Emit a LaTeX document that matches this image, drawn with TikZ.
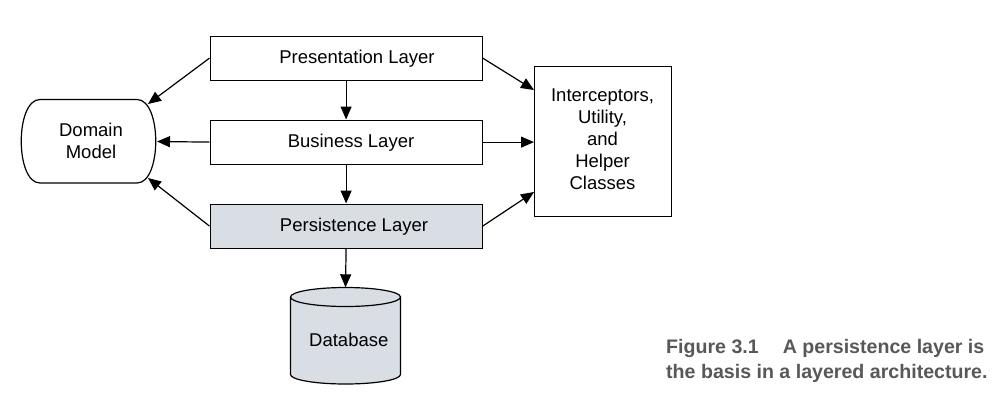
\documentclass[tikz,border=0pt]{standalone}
\usepackage{fontspec}
\setmainfont{Liberation Sans}
\usetikzlibrary{arrows.meta,calc}
\definecolor{layerfill}{RGB}{217,222,229}
\definecolor{captiongray}{RGB}{88,88,88}
\begin{document}
\begin{tikzpicture}[x=1pt,y=-1pt,
  every node/.style={font=\fontsize{18.5}{21.5}\selectfont},
  box/.style={draw, line width=1.2pt, minimum width=272pt, minimum height=44pt, inner sep=0pt, anchor=north west},
  lbl/.style={inner sep=0pt, anchor=base},
  conn/.style={line width=1.2pt, -{Triangle[length=13pt,width=11pt]}},
  shapeline/.style={line width=1.2pt},
  caption/.style={inner sep=0pt, anchor=base west, text=captiongray, font=\fontsize{19.6}{25}\selectfont\bfseries}
]
\useasboundingbox (0,0) rectangle (1008,405);

% layers
\node[box] (pres) at (209.5,35.5) {};
\node[lbl] (presl) at (357,63.6) {Presentation Layer};
\node[box] (bus) at (209.5,119.5) {};
\node[lbl] (busl) at (351,147.6) {Business Layer};
\node[box, fill=layerfill] (pers) at (209.5,203.5) {};
\node[lbl] (persl) at (354,231.8) {Persistence Layer};

% domain model
\draw[shapeline] (40,99.5) -- (137,99.5) .. controls (162,99.5) and (162,183) .. (137,183)
  -- (40,183) .. controls (15,183) and (15,99.5) .. (40,99.5) -- cycle;
\node[inner sep=0pt, align=center] (dm) at (91,140.7) {Domain\\Model};
\coordinate (dmA) at (148,104);
\coordinate (dmB) at (157,141.5);
\coordinate (dmC) at (148,178);

% interceptors
\node[draw, line width=1.2pt, minimum width=137pt, minimum height=149.5pt, inner sep=0pt, anchor=north west] (int) at (534,66) {};
\node[inner sep=0pt, align=center, font=\fontsize{18.5}{22}\selectfont] (intl) at (602.5,139.2) {Interceptors,\\Utility,\\and\\Helper\\Classes};
\coordinate (intA) at (534,90);
\coordinate (intC) at (534,192);

% database
\node[minimum width=111pt, minimum height=97pt, inner sep=0pt] (db) at (345.5,336) {};
\filldraw[shapeline, fill=layerfill] (290.5,297) -- (290.5,374.5) arc[start angle=180, end angle=0, x radius=55, y radius=9.5]
  -- (400.5,297) arc[start angle=0, end angle=-180, x radius=55, y radius=9.5] -- cycle;
\draw[shapeline] (290.5,297) arc[start angle=180, end angle=0, x radius=55, y radius=9.5];
\node[lbl] (dbl) at (348.8,346.7) {Database};

% connectors
\draw[conn] (pres.south) -- (bus.north);
\draw[conn] (bus.south) -- (pers.north);
\draw[conn] (pers.south) -- (db.north);
\draw[conn] (pres.west) -- (dmA);
\draw[conn] (bus.west) -- (dmB);
\draw[conn] (pers.west) -- (dmC);
\draw[conn] (pres.east) -- (intA);
\draw[conn] (bus.east) -- (bus.east -| int.west);
\draw[conn] (pers.east) -- (intC);

% caption
\node[caption] (cap1) at (666,353) {Figure 3.1\hspace{24pt}A persistence layer is};
\node[caption] (cap2) at (666,378) {the basis in a layered architecture.};
\end{tikzpicture}
\end{document}
